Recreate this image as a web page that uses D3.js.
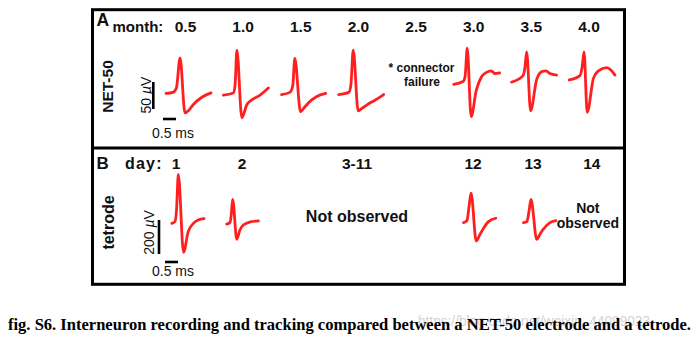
<!DOCTYPE html>
<html><head><meta charset="utf-8">
<script src="https://cdn.jsdelivr.net/npm/d3@7"></script>
<style>body{margin:0;background:#fff}svg{display:block}</style>
</head><body><svg id="c" width="696" height="338"></svg>
<script>
// ---- data ----
const months = ["0.5","1.0","1.5","2.0","2.5","3.0","3.5","4.0"];
const days = ["1","2","3-11","12","13","14"];
// waveform samples: [time (ms, relative to column centre), voltage (µV)]
const wave05 = [[-0.75,1],[-0.48,3],[-0.35,11],[-0.21,67],[-0.02,-35],[0.13,-30],[0.29,-20],[0.63,-6],[0.98,2]];
const wave10 = [[-0.76,-2],[-0.38,2],[-0.31,17],[-0.24,81],[-0.05,-44],[0.14,-20],[0.33,-11],[0.65,-2],[0.97,11]];
const wave15 = [[-0.74,-1],[-0.42,3],[-0.31,15],[-0.23,66],[-0.01,-33],[0.12,-26],[0.28,-17],[0.6,-5],[0.96,1]];
const wave20 = [[-0.76,-1],[-0.37,3],[-0.29,17],[-0.2,81],[-0.01,-31],[0.15,-26],[0.33,-20],[0.65,-11],[0.97,-1]];
const wave30 = [[-0.77,18],[-0.41,23],[-0.33,33],[-0.25,85],[-0.1,-42],[0.1,7],[0.3,32],[0.49,40],[0.68,43],[0.81,38],[1.0,39]];
const wave35 = [[-0.76,22],[-0.32,34],[-0.25,48],[-0.18,78],[-0.03,-31],[0.2,26],[0.39,41],[0.56,43],[0.71,38],[0.97,35]];
const wave40 = [[-0.76,26],[-0.35,34],[-0.27,48],[-0.19,78],[-0.07,-34],[0.17,29],[0.36,43],[0.68,49],[0.85,44],[1.0,35]];
const day1  = [[-0.16,-2],[-0.04,8],[0.02,76],[0.09,286],[0.29,-172],[0.47,-51],[0.67,-2],[0.85,18],[1.08,26]];
const day2  = [[-0.59,-6],[-0.46,2],[-0.41,53],[-0.36,139],[-0.2,-96],[-0.08,-41],[0.05,-12],[0.31,6],[0.63,12]];
const day12 = [[-0.37,2],[-0.24,14],[-0.15,106],[-0.08,175],[0.12,-106],[0.25,-71],[0.4,-31],[0.59,8],[0.87,28]];
const day13 = [[-0.37,2],[-0.24,8],[-0.15,76],[-0.08,139],[0.14,-96],[0.27,-65],[0.39,-37],[0.65,2],[0.88,14]];
const netWaves = [["0.5",wave05],["1.0",wave10],["1.5",wave15],["2.0",wave20],["3.0",wave30],["3.5",wave35],["4.0",wave40]];
const tetWaves = [["1",day1],["2",day2],["12",day12],["13",day13]];
const scaleA = {uv: 50, ms: 0.5};
const scaleB = {uv: 200, ms: 0.5};

// ---- layout ----
const svg = d3.select("#c");
const sans = "'Liberation Sans', Arial, Helvetica, sans-serif";
const colX = d3.scalePoint().domain(months).range([185.5, 589]);
const slot = d3.scaleLinear().domain([0, 7]).range([185.5, 589]);
const daySlot = {"1":-0.165,"2":0.98,"3-11":2.975,"12":4.99,"13":6.03,"14":7.05};
const dayX = d => slot(daySlot[d]);
const tX = d3.scaleLinear().domain([0, 1]).range([0, 26]);
const yA = d3.scaleLinear().domain([0, 50]).range([94, 67]);
const yB = d3.scaleLinear().domain([0, 200]).range([223, 189]);

// frame
svg.append("rect").attr("x",92.5).attr("y",9.7).attr("width",532).attr("height",274.6)
  .attr("fill","none").attr("stroke","#000").attr("stroke-width",3);
svg.append("line").attr("x1",92.5).attr("x2",624.5).attr("y1",148).attr("y2",148)
  .attr("stroke","#000").attr("stroke-width",3);

function txt(x, y, s, size, weight, anchor) {
  return svg.append("text").attr("x",x).attr("y",y).text(s)
    .attr("font-family",sans).attr("font-size",size).attr("font-weight",weight||"normal")
    .attr("text-anchor",anchor||"start").attr("fill","#111");
}

// panel A labels
txt(96.5, 25.5, "A", 17.5, "bold");
txt(112.5, 32, "month:", 15, "bold");
svg.append("g").selectAll("text").data(months).join("text")
  .attr("x", d => colX(d)).attr("y", 32).text(d => d)
  .attr("font-family",sans).attr("font-size",15.5).attr("font-weight","bold")
  .attr("text-anchor","middle").attr("fill","#111");
txt(0, 0, "NET-50", 15.5, "bold", "middle").attr("transform","translate(113,86.5) rotate(-90)");
txt(421.5, 72, "* connector", 12, "bold", "middle");
txt(422, 86, "failure", 12, "bold", "middle");

// panel B labels
txt(96.5, 169, "B", 17, "bold");
txt(125, 168.5, "day:", 16, "bold").attr("letter-spacing", 1.2);
svg.append("g").selectAll("text").data(days).join("text")
  .attr("x", d => dayX(d)).attr("y", 168.5).text(d => d)
  .attr("font-family",sans).attr("font-size",15.5).attr("font-weight","bold")
  .attr("text-anchor","middle").attr("fill","#111");
txt(0, 0, "tetrode", 16, "bold", "middle").attr("transform","translate(114,222.5) rotate(-90)");
txt(dayX("3-11"), 222, "Not observed", 16, "bold", "middle");
txt(dayX("14") - 4, 213, "Not", 14, "bold", "middle");
txt(dayX("14") - 4, 228, "observed", 14, "bold", "middle");

// waveforms
function drawWaves(list, xf, y) {
  const line = d3.line().curve(d3.curveMonotoneX);
  svg.append("g").selectAll("path").data(list).join("path")
    .attr("d", d => line.x(p => xf(d[0]) + tX(p[0])).y(p => y(p[1]))(d[1]))
    .attr("fill","none").attr("stroke","#ff1f1f").attr("stroke-width",2.8)
    .attr("stroke-linejoin","round").attr("stroke-linecap","round");
}
drawWaves(netWaves, colX, yA);
drawWaves(tetWaves, dayX, yB);

// scale bars
function scaleBar(vx, vBottom, vLen, hx, hy, hLen, uvLabel, labelX, labelY, msY) {
  svg.append("line").attr("x1",vx).attr("x2",vx).attr("y1",vBottom).attr("y2",vBottom - vLen)
    .attr("stroke","#000").attr("stroke-width",2.6);
  svg.append("line").attr("x1",hx).attr("x2",hx + hLen).attr("y1",hy).attr("y2",hy)
    .attr("stroke","#000").attr("stroke-width",2.6);
  const t = svg.append("text").attr("transform",`translate(${labelX},${labelY}) rotate(-90)`)
    .attr("font-family",sans).attr("font-size",14).attr("text-anchor","middle").attr("fill","#111");
  t.append("tspan").text(uvLabel + " ");
  t.append("tspan").attr("font-style","italic").text("\u00B5");
  t.append("tspan").text("V");
  txt(152, msY, "0.5 ms", 14, "normal");
}
scaleBar(153.3, 109, yA(0) - yA(scaleA.uv), 163, 119, tX(scaleA.ms), String(scaleA.uv), 150.5, 95, 138);
scaleBar(159, 254, yB(0) - yB(scaleB.uv), 165, 262, tX(scaleB.ms), String(scaleB.uv), 154, 232.5, 276);

// watermark + caption
svg.append("text").attr("x",418).attr("y",326).text("https://blog.csdn.net/weixin_44099023")
  .attr("font-family",sans).attr("font-size",14).attr("fill","#d4d4d4")
  .attr("textLength",232).attr("lengthAdjust","spacingAndGlyphs");
svg.append("text").attr("x",8).attr("y",330)
  .text("fig. S6. Interneuron recording and tracking compared between a NET-50 electrode and a tetrode.")
  .attr("font-family","'Liberation Serif', 'Times New Roman', serif").attr("font-size",16)
  .attr("font-weight","bold").attr("fill","#000")
  .attr("textLength",683).attr("lengthAdjust","spacingAndGlyphs");
</script></body></html>
